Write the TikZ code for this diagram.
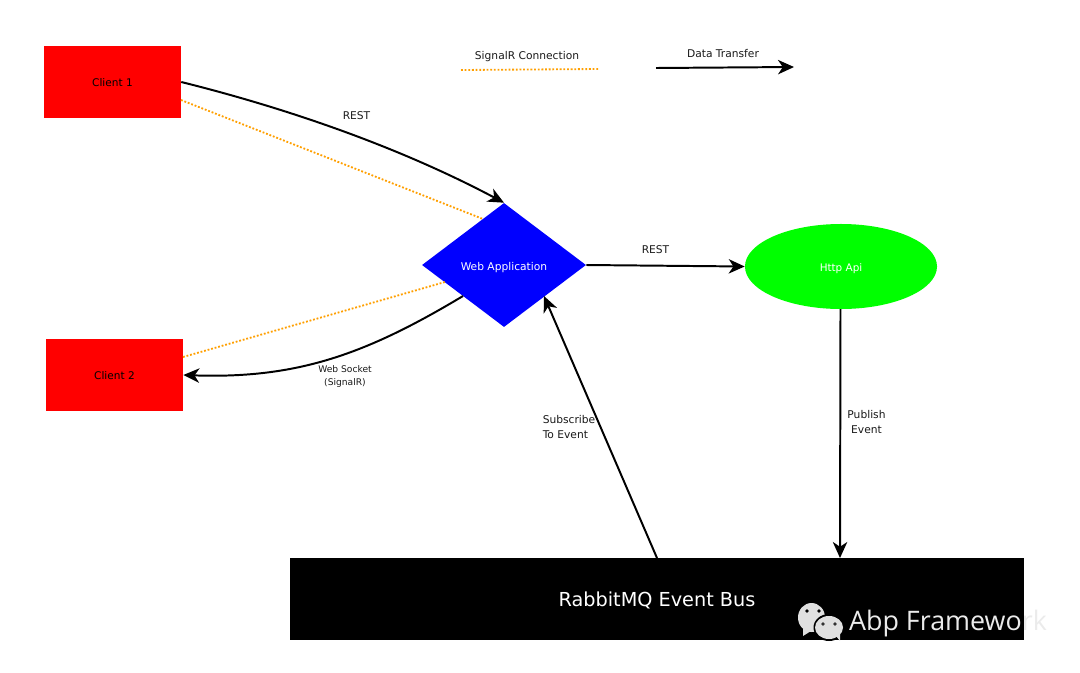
\documentclass[tikz,border=0pt]{standalone}
\usepackage{fontspec}
\setmainfont{DejaVu Sans}
\newfontfamily\markfont{Open Sans}
\usetikzlibrary{shapes.geometric}
\usetikzlibrary{arrows.meta}
\usepackage{xcolor}

\begin{document}
\begin{tikzpicture}[x=0.025cm, y=-0.025cm]
        % ================= styles =================
        \tikzset{
            client_box/.style={rectangle, fill=red, minimum width=3.425cm, minimum height=1.8cm, inner sep=0pt, text height=7pt, text depth=0pt, font=\fontsize{7.5pt}{9pt}\selectfont},
            web_node/.style={diamond, fill=blue, text=white, minimum width=4.1cm, minimum height=3.1cm, inner sep=0pt, text height=7.5pt, text depth=0pt, font=\fontsize{7.6pt}{9pt}\selectfont},
            api_node/.style={ellipse, fill=green, text=white, minimum width=4.8cm, minimum height=2.125cm, inner sep=0pt, text height=7pt, text depth=0pt, font=\fontsize{7.4pt}{9pt}\selectfont},
            bus_box/.style={rectangle, fill=black, text=white, minimum width=18.35cm, minimum height=2.05cm, inner sep=0pt, text height=10.6pt, text depth=0pt, font=\fontsize{13.7pt}{16pt}\selectfont},
            label_text/.style={inner sep=0pt, align=center, text=black!90, font=\fontsize{7.6pt}{10.7pt}\selectfont},
            small_text/.style={label_text, font=\fontsize{6.5pt}{9pt}\selectfont},
            data_edge/.style={line width=1.4pt, black, -{Stealth[length=4mm, width=3.6mm, inset=1.2mm]}},
            signal_edge/.style={line width=1.3pt, orange!75!yellow, dash pattern=on 1.3pt off 1.3pt}
        }

        \useasboundingbox (0,0) rectangle (1080,672);

        % ================= nodes =================
        \node[client_box] (client1) at (112.5,82) {Client 1};
        \node[client_box] (client2) at (114.5,375) {Client 2};
        \node[web_node] (web) at (504,265) {Web Application};
        \node[api_node] (api) at (841,266.5) {Http Api};
        \node[bus_box] (bus) at (657,599) {RabbitMQ Event Bus};

        % free ends on the edges of the shapes
        \coordinate (c1dot) at (181,100);
        \coordinate (webdot1) at (483,219);
        \coordinate (c2dot) at (183,357);
        \coordinate (webdot2) at (445,282);
        \coordinate (websock) at (463,296);
        \coordinate (websub) at (544,296);
        \coordinate (bussub) at (657,558);
        \coordinate (apipub) at (840.5,309);
        \coordinate (buspub) at (840,558);

        % ================= connectors =================
        \draw[signal_edge] (c1dot) -- (webdot1);
        \draw[signal_edge] (c2dot) -- (webdot2);
        \draw[data_edge] (client1.east) to[out=-14, in=152, looseness=0.85] (web.north);
        \draw[data_edge] (websock) to[out=211, in=-2] (client2.east);
        \draw[data_edge] (web.east) -- (api.west);
        \draw[data_edge] (apipub) -- (buspub);
        \draw[data_edge] (bussub) -- (websub);

        % ================= legend =================
        \coordinate (sig_a) at (461,70);
        \coordinate (sig_b) at (599,69);
        \coordinate (dat_a) at (656,68);
        \coordinate (dat_b) at (794,67);
        \draw[signal_edge] (sig_a) -- (sig_b);
        \draw[data_edge] (dat_a) -- (dat_b);
        \node[label_text] (siglabel) at (527,56.5) {SignalR Connection};
        \node[label_text] (datlabel) at (723,54) {Data Transfer};

        % ================= edge labels =================
        \node[label_text] (rest1) at (356.5,115.5) {REST};
        \node[label_text] (rest2) at (655.5,249.5) {REST};
        \node[small_text] (socket) at (345,376.5) {Web Socket\\(SignalR)};
        \node[label_text, align=left] (subscribe) at (569,427) {Subscribe\\To Event};
        \node[label_text] (publish) at (866.5,422) {Publish\\Event};

        % ================= watermark =================
        \fill[black!12] (811.5,617.5) ellipse (13.5 and 14.5);
        \fill[black!12] (803,628) -- (803,636) -- (811,631) -- cycle;
        \fill[black] (829,627.5) ellipse (15.5 and 13.5);
        \fill[black!12] (829,627.5) ellipse (14 and 11.5);
        \fill[black!12] (836,636) -- (840,641) -- (840,633) -- cycle;
        \foreach \ex/\ey/\ec in {807/611/black, 819/611/black, 823/624/black!80, 835/624/black!80} {
            \fill[\ec] (\ex,\ey) circle (1.8);
        }
        \node[inner sep=0pt, text=black!8, font=\markfont\fontsize{19.1pt}{22pt}\selectfont] (mark) at (948,624) {Abp Framework};

    \end{tikzpicture}
\end{document}
